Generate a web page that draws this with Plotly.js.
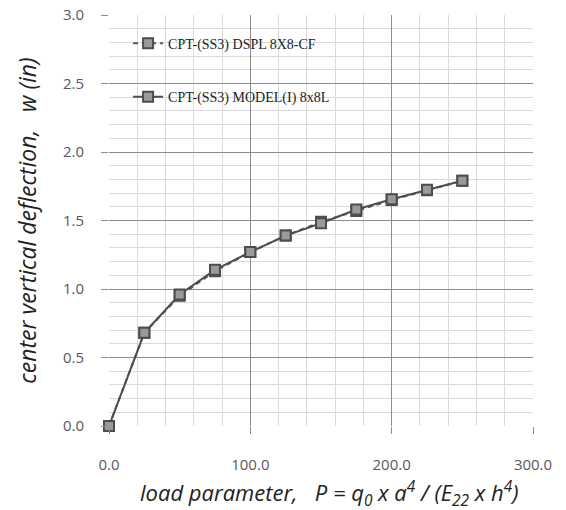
<!DOCTYPE html>
<html><head><meta charset="utf-8">
<script src="https://cdn.plot.ly/plotly-3.0.1.min.js"></script>
<style>body{margin:0;background:#fff}#c{width:566px;height:510px}</style>
</head><body><div id="c"></div>
<script>
const loadP = [0, 25, 50, 75, 100, 125, 150, 175, 200, 225, 250];
const dsplW = [0, 0.68, 0.95, 1.13, 1.27, 1.39, 1.49, 1.57, 1.65, 1.72, 1.79];
const modelW = [0, 0.68, 0.96, 1.14, 1.27, 1.39, 1.48, 1.58, 1.655, 1.725, 1.79];
const nameDspl = 'CPT-(SS3) DSPL 8X8-CF';
const nameModel = 'CPT-(SS3) MODEL(I) 8x8L';
const xTitle = 'load parameter,&nbsp;&nbsp; P = q<sub>0</sub> x a<sup>4</sup> / (E<sub>22</sub> x h<sup>4</sup>)';
const yTitle = 'center vertical deflection,&nbsp;&nbsp; w (in)';

const mk = {symbol: 'square', size: 10, color: '#9a9a9a', line: {color: '#4d4d4d', width: 2}};
const traces = [
  {x: loadP, y: dsplW, name: nameDspl, mode: 'lines+markers', type: 'scatter', cliponaxis: false,
   line: {color: '#5a5a5a', width: 2, dash: '5px,4px'}, marker: mk, legend: 'legend'},
  {x: loadP, y: modelW, name: nameModel, mode: 'lines+markers', type: 'scatter', cliponaxis: false,
   line: {color: '#4d4d4d', width: 2}, marker: mk, legend: 'legend2'}
];
const tickFont = {family: 'Open Sans, Noto Sans, sans-serif', size: 15, color: '#595959'};
const legFont = {family: 'Liberation Serif, serif', size: 14, color: '#222'};
const titleFont = {family: 'Open Sans, Noto Sans, sans-serif', size: 23, color: '#222', style: 'italic'};
const xTitleFont = {family: 'Open Sans, Noto Sans, sans-serif', size: 22, color: '#222', style: 'italic'};
const layout = {
  width: 566, height: 510,
  margin: {l: 109, r: 33, t: 15, b: 84},
  paper_bgcolor: '#fff', plot_bgcolor: '#fff',
  showlegend: true,
  legend: {x: 0.045, y: 0.93, xanchor: 'left', yanchor: 'middle', bgcolor: 'rgba(0,0,0,0)', font: legFont},
  legend2: {x: 0.045, y: 0.80, xanchor: 'left', yanchor: 'middle', bgcolor: 'rgba(0,0,0,0)', font: legFont},
  annotations: [{text: xTitle, xref: 'paper', yref: 'paper', x: 0.52, y: -0.117,
                 xanchor: 'center', yanchor: 'top', showarrow: false, font: xTitleFont}],
  xaxis: {
    range: [0, 300], dtick: 100, tick0: 0, tickformat: '.1f',
    showgrid: true, gridcolor: '#8c8c8c', gridwidth: 1,
    zeroline: false, showline: false,
    ticks: 'outside', ticklen: 7, tickcolor: '#8c8c8c',
    ticklabelstandoff: 18, tickfont: tickFont,
    minor: {dtick: 20, showgrid: true, gridcolor: '#dadada', gridwidth: 1}
  },
  yaxis: {
    range: [0, 3], dtick: 0.5, tick0: 0, tickformat: '.1f',
    showgrid: true, gridcolor: '#8c8c8c', gridwidth: 1,
    zeroline: false, showline: false,
    ticks: 'outside', ticklen: 7, tickcolor: '#8c8c8c',
    ticklabelstandoff: 14, tickfont: tickFont,
    minor: {dtick: 0.1, showgrid: true, gridcolor: '#dadada', gridwidth: 1},
    title: {text: yTitle, font: titleFont, standoff: 19}
  }
};
Plotly.newPlot('c', traces, layout, {displayModeBar: false, staticPlot: true});
</script></body></html>
